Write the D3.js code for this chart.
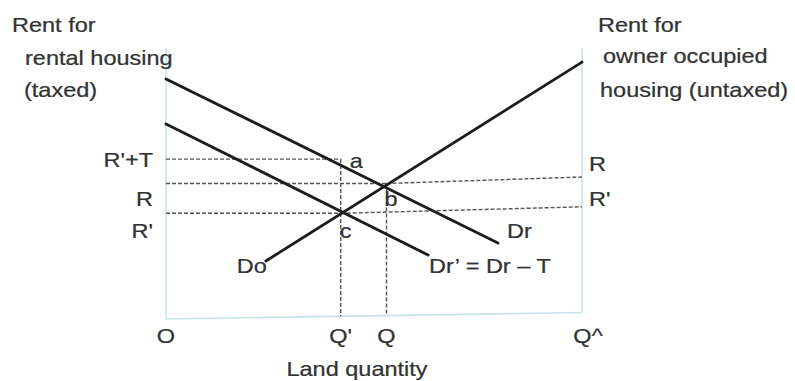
<!DOCTYPE html>
<html><head><meta charset="utf-8">
<script src="https://cdn.jsdelivr.net/npm/d3@7/dist/d3.min.js"></script>
<style>
html,body{margin:0;padding:0;background:#fff;}
text{font-family:"Liberation Sans",Arial,sans-serif;fill:#333;font-size:21px;stroke:#333;stroke-width:0.25px;}
</style></head>
<body>
<svg id="c" width="795" height="381"></svg>
<script>
// ---- data (abstract units: quantity 0..100, rent 0..100) ----
const quantityTicks = ["O", "Q'", "Q", "Q^"];
const quantityValues = [0, 42, 53, 100];
const rentLabels = ["R'+T", "R", "R'"];
const rentValues = [59, 50, 39];
const rightRentLabels = ["R", "R'"];
const rightRentValues = [50, 39];
const curveNames = ["Dr", "Dr\u2019 = Dr \u2013 T", "Do"];
const curveDr = [[0, 88.6], [79.8, 28.0]];
const curveDrPrime = [[0, 72.0], [63.0, 23.6]];
const curveDo = [[24.0, 21.4], [100, 94.8]];
const pointLabels = ["a", "b", "c"];
const pointQ = [42, 53, 42];
const pointR = [59, 50, 39];

const svg = d3.select("#c");
const x = d3.scaleLinear().domain([0, 100]).range([166, 582]);
const yL = d3.scaleLinear().domain([0, 100]).range([319, 48]);
const yR = d3.scaleLinear().domain([0, 100]).range([312.5, 41.5]);
const yBottom = q => yL(0) + (yR(0) - yL(0)) * q / 100;

const SX = 1.12;
function label(t, px, py, anchor) {
  svg.append("text").attr("transform", `translate(${px},${py}) scale(${SX},1)`)
    .attr("text-anchor", anchor || "start").text(t);
}

// axes
const axisColor = "#c6e3ea";
svg.append("line").attr("x1", x(0)).attr("x2", x(0)).attr("y1", yL(100)).attr("y2", yL(0))
  .attr("stroke", axisColor).attr("stroke-width", 1.5);
svg.append("line").attr("x1", x(100)).attr("x2", x(100)).attr("y1", yL(100)).attr("y2", yR(0))
  .attr("stroke", axisColor).attr("stroke-width", 1.5);
svg.append("line").attr("x1", x(0)).attr("x2", x(100)).attr("y1", yL(0)).attr("y2", yR(0))
  .attr("stroke", axisColor).attr("stroke-width", 1.5);

// dashed guides
const dash = g => g.attr("stroke", "#555").attr("stroke-width", 1.4).attr("stroke-dasharray", "4,2").attr("fill", "none");
rentValues.forEach((v, i) => {
  const qEnd = pointQ[i];
  dash(svg.append("line").attr("x1", x(0)).attr("x2", x(qEnd)).attr("y1", yL(v)).attr("y2", yL(v)));
});
rightRentValues.forEach((v, i) => {
  const qStart = pointQ[i + 1];
  dash(svg.append("line").attr("x1", x(qStart)).attr("x2", x(100)).attr("y1", yL(v)).attr("y2", yR(v)));
});
[[quantityValues[1], rentValues[0]], [quantityValues[2], rentValues[1]]].forEach(([q, v]) => {
  dash(svg.append("line").attr("x1", x(q)).attr("x2", x(q)).attr("y1", yL(v)).attr("y2", yBottom(q)));
});

// curves
const line = d3.line().x(d => x(d[0])).y(d => yL(d[1]));
[curveDr, curveDrPrime, curveDo].forEach(c => {
  svg.append("path").attr("d", line(c)).attr("stroke", "#1c1c1c").attr("stroke-width", 2.8)
    .attr("fill", "none").attr("stroke-linecap", "round");
});

// titles
label("Rent for", 12, 32);
label("rental housing", 25, 65);
label("(taxed)", 24, 97);
label("Rent for", 598, 32);
label("owner occupied", 603, 63);
label("housing (untaxed)", 600, 97);

// left rent labels
const leftOff = [8, 22, 25];
rentLabels.forEach((t, i) => label(t, 153, yL(rentValues[i]) + leftOff[i], "end"));
// right rent labels
const rightOff = [-6, -1];
rightRentLabels.forEach((t, i) => label(t, x(100) + 7, yR(rightRentValues[i]) + rightOff[i]));

// point labels
const ptOff = [[9, 9], [-2, 22], [-1, 25]];
pointLabels.forEach((t, i) => label(t, x(pointQ[i]) + ptOff[i][0], yL(pointR[i]) + ptOff[i][1]));

// curve labels
label(curveNames[0], x(curveDr[1][0]) + 9, yL(curveDr[1][1]) - 5);
label(curveNames[1], x(curveDrPrime[1][0]) + 1, yL(curveDrPrime[1][1]) + 18);
label(curveNames[2], x(curveDo[0][0]) + 1, yL(curveDo[0][1]) + 12, "end");

// quantity ticks
quantityTicks.forEach((t, i) => {
  const q = quantityValues[i];
  const dx = i === 3 ? 6 : 0;
  label(t, x(q) + dx, 343, "middle");
});
label("Land quantity", 357, 376, "middle");
</script>
</body></html>
